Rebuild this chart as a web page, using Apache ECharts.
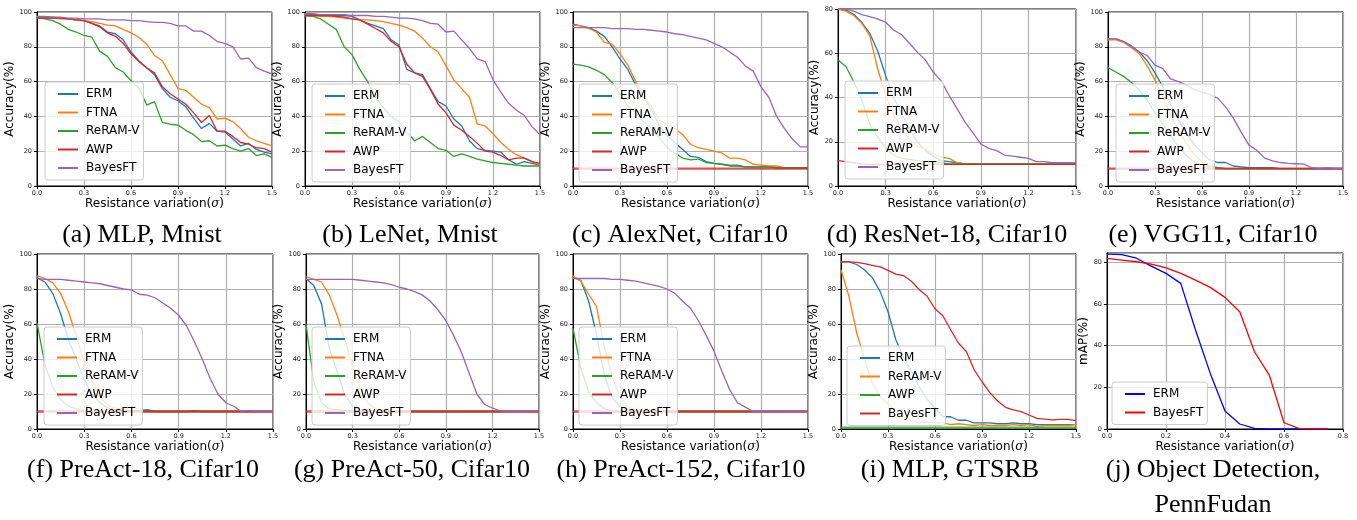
<!DOCTYPE html>
<html><head><meta charset="utf-8">
<script src="https://cdn.jsdelivr.net/npm/echarts@6/dist/echarts.min.js"></script>
<style>html,body{margin:0;padding:0;background:#fff}#c{width:1357px;height:520px}</style>
</head><body><div id="c"></div><script>
// ---- x values ----
const sigma = [0,0.05,0.1,0.15,0.2,0.25,0.3,0.35,0.4,0.45,0.5,0.55,0.6,0.65,0.7,0.75,0.8,0.85,0.9,0.95,1.0,1.05,1.1,1.15,1.2,1.25,1.3,1.35,1.4,1.45,1.5];
const sigmaJ = [0,0.05,0.1,0.15,0.2,0.25,0.3,0.35,0.4,0.45,0.5,0.55,0.6,0.65,0.7,0.75];

// (a) MLP, Mnist
const aERM   = [97,97,97,96.5,96,95.5,95,93.5,92,88.5,87.5,84,77,72,68,64,56,51,49,45.5,39,33,36,31.5,31,27,23,24.5,21,19.5,18.5];
const aFTNA  = [96.5,96.5,96.5,96,96,95.5,95,94.5,93.5,92.5,92,90,88,85.5,81.5,75,72,64,56,55,51,47,45,38.5,39,37,33,28,26,24.5,23];
const aReRAM = [97,96,95,93,90,88.5,86.5,85.5,77.5,74.5,68,65.5,60.5,56.5,46.5,48.5,36.5,35.5,35,32,29.5,25.5,26,23,23.5,21.5,20,21.5,17.5,18.5,16.5];
const aAWP   = [96.5,96.5,96.5,96.5,96,95.5,95,93.5,91.5,88,86,82,76,71.5,68,65,57,53,50,47,42,36.5,40.5,31.5,31.5,28.5,25,24,22,21.5,19.5];
const aBayes = [97.5,97.5,97,97,96.5,96.5,96,96,96,95.5,95.5,95.5,95,95,94.5,94,94,93.5,92,92,89,89,86.5,83,82,80,73,73.5,68,66,64.5];
// (b) LeNet, Mnist
const bERM   = [98.5,98.5,98.5,98,98,98,97.5,95.5,93.5,92,90.5,84,81,67,65,64,56,48.5,46,38.5,34.5,26,21.5,20.5,20,19.5,15,12.5,14,13,12];
const bFTNA  = [98,98,97.5,97.5,97,96.5,96,95.5,95.5,95,94.5,93.5,92.5,91,89,85,80,77,69,61,56,51,35.5,34.5,30,25,21,18,16,14,12];
const bReRAM = [98,97.5,96,93,90,80,75.5,67,60,51,45,40,37,31,26,28.5,25,21.5,20.5,17,18.5,17,15.5,14.5,13.5,13,12.5,12,11.5,11.5,11.5];
const bAWP   = [98,98,98,98,97.5,97,96,95.5,93,90.5,88,83,80,70,65,63,55.5,47,42,35,32,28.5,24.5,20,19.5,17.5,15,16,16,14,13];
const bBayes = [99,99,98.5,98.5,98.5,98.5,98,98,98,97.5,97.5,97,96.5,96.5,96,95,93.5,93,88.5,89,84,79,73,71.5,61,54,47.5,43.5,40.5,34,29.5];
// (c) AlexNet, Cifar10
const cERM   = [93,92,91,89,86,80,73,67,58,51,44,35,29,25,21,17,16.5,14,13,12.5,11.5,11.5,11,11,11,11,10.5,10.5,10.5,10.5,10];
const cFTNA  = [92.5,92,90.5,88.5,82.5,81.5,76,69.5,60,52,46,38,35.5,33,29.5,24,22,21,20,19,16,16,15,12.5,12,11.5,11.5,10.5,10.5,10.5,10];
const cReRAM = [70,69.5,68.5,66.5,64,59.5,53,46,42,37,33,28,22,19,16,15,15.5,13.5,13,12.5,12,12,11,11,11,11,10.5,10.5,10.5,10.5,10.5];
const cAWP   = [10,10,10,10,10,10,10,10,10,10,10,10,10,10,10,10,10,10,10,10,10,10,10,10,10,10,10,10,10,10,10];
const cBayes = [91,91,91,91,91,90.5,90.5,90.5,90,90,89.5,89,88.5,87.5,87,86,85,84,82,80,77,74,69,66,57,51,40,33,27,22.5,22.5];
// (d) ResNet-18, Cifar10
const dERM   = [80,79.5,77.5,74,69,61,50,40,33,26,20,16,13.5,11.5,11,10.5,10,10,10,10,10,10,10,10,10,10,10,10,10,10,10];
const dFTNA  = [80,79,77,73.5,68,53,41,32,26,21,18,16.5,14.5,13,12.5,10.5,10,10,10,10,10,10,10,10,10,10,10,10,10,10,10];
const dReRAM = [57,54,47,39,28,22,17,14,12.5,12,11.5,11,10.5,10.5,10,10,10,10,10,10,10,10,10,10,10,10,10,10,10,10,10];
const dAWP   = [11.5,11,10.5,10,9.8,9.8,9.8,9.8,9.8,9.8,9.8,9.8,9.8,9.8,9.8,9.8,9.8,9.8,9.8,9.8,9.8,9.8,9.8,9.8,9.8,9.8,9.8,9.8,9.8,9.8,9.8];
const dBayes = [80.5,80,79,77.5,76.5,75.5,74,70.5,68.5,64.5,60.5,57,51.5,47.5,41,35,29,24,19,17,16,14,13.5,13,12.5,11,11,10.5,10.5,10.5,10.5];
// (e) VGG11, Cifar10
const eERM   = [84.5,84.5,83,80.5,77,72,65,57,47,38,30,24,19,15,13.5,13.5,11.5,11,10.5,10.5,10.5,10.5,10,10,10,10,10,10,10,10,10];
const eFTNA  = [84,84,82.5,79.5,76,69,61,51,41,32,24.5,18,14,11.5,10.5,10,10,10,10,10,10,10,10,10,10,10,10,10,10,10,10];
const eReRAM = [68,65.5,63,59.5,55,49.5,42,35.5,29,22.5,17.5,14,12,11,10.5,10,10,10,10,10,10,10,10,10,10,10,10,10,10,10,10];
const eAWP   = [10,10,10,10,10,10,10,10,10,10,10,10,10,10,10,10,10,10,10,10,10,10,10,10,10,10,10,10,10,10,10];
const eBayes = [84.5,84.5,83,80,77,75,69.5,67.5,61.5,60,58,55.5,54,52.5,50.5,45.5,39,31,23.5,20.5,16,14.5,13.5,13,12.8,12.6,10.5,10.2,10.5,10.2,10.2];
// (f) PreAct-18, Cifar10
const fERM   = [86.5,84,77.5,66,51,40,28,20,15,12,11,10.5,10.5,10.5,11,10,10,10,10,10,10.5,10,10,10,10,10,10,10,10,10,10];
const fFTNA  = [87.5,86,83.5,77.5,67,53,38,28,18.5,13.5,12,11,10.5,10,10,10,10,10,10,10,10,10,10,10,10,10,10,10,10,10,10];
const fReRAM = [60.5,37,24,17,13,11.5,10.5,10,10,10,10,10,10,10,10,10,10,10,10,10,10,10,10,10,10,10,10,10,10,10,10];
const fAWP   = [10,10,10,10,10,10,10,10,10,10,10,10,10,10,10,10,10,10,10,10,10,10,10,10,10,10,10,10,10,10,10];
const fBayes = [86,85.5,85.5,85.5,85,84.5,84,83.5,83,82,81,80,79.5,77,76.5,75,72,69,65,59,50,40,29,20,15,13,10,10.5,10,10,10];
// (g) PreAct-50, Cifar10
const gERM   = [86,82,71.5,46,33,19.5,13,10.5,10,10,10,10,10,10,10,10,10,10,10,10,10,10,10,10,10,10,10,10,10,10,10];
const gFTNA  = [87,85.5,84,76.5,65,51,35.5,23,14.5,11.5,10.5,10,10,10,10,10,10,10,10,10,10,10,10,10,10,10,10,10,10,10,10];
const gReRAM = [60,27,15,11.5,11,10.5,10,10,10,10,10,10,10,10,10,10,10,10,10,10,10,10,10,10,10,10,10,10,10,10,10];
const gAWP   = [10,10,10,10,10,10,10,10,10,10,10,10,10,10,10,10,10,10,10,10,10,10,10,10,10,10,10,10,10,10,10];
const gBayes = [85.5,85.5,85.5,85.5,85.5,85.5,85.5,85,84.5,84,83.5,82.5,81,80,78.5,76.5,73,68,62,53.5,44,32,20,14,12,10.3,10,10,10,10,10];
// (h) PreAct-152, Cifar10
const hERM   = [86.5,85,73,54,31,18,13,11.3,10.5,10,10,10,10,10,10,10,10,10,10,10,10,10,10,10,10,10,10,10,10,10,10];
const hFTNA  = [87.5,84.5,77,70,47,30,18.5,13,10.5,10,10,10,10,10,10,10,10,10,10,10,10,10,10,10,10,10,10,10,10,10,10];
const hReRAM = [57.5,35,21,15,11.5,10.5,10,10,10,10,10,10,10,10,10,10,10,10,10,10,10,10,10,10,10,10,10,10,10,10,10];
const hAWP   = [10,10,10,10,10,10,10,10,10,10,10,10,10,10,10,10,10,10,10,10,10,10,10,10,10,10,10,10,10,10,10];
const hBayes = [86,86,86,86,86,85.5,85.5,85,84.5,83.5,82.5,81.5,80,77.5,73,69,62,53.5,44.5,33,22.5,15,12.5,10,10,10,10,10,10,10,10];
// (i) MLP, GTSRB
const iERM   = [95.5,95.5,94,91,86.5,78.5,67,51,41,33,24,17,12,7,7,5,5,3.5,3.5,3.5,3,3,3.5,3,3,2.5,2.5,2.5,2.5,2.5,2.5];
const iReRAM = [91,76,55,40,26,18.5,14.5,10,7,5,3.5,4,3.5,3.5,2.5,3,2.5,2,2.5,2,2,2,2.5,2,2.5,1.5,2,2,2,2,2.5];
const iAWP   = [0.7,0.7,0.7,0.7,0.7,0.7,0.7,0.7,0.7,0.7,0.7,0.7,0.7,0.7,0.7,0.7,0.7,0.7,0.7,0.7,0.7,0.7,0.7,0.7,0.7,0.7,0.7,0.7,0.7,0.7,0.7];
const iBayes = [95.5,95.5,95.2,94.5,93.5,92.6,90.6,88.5,87.6,84.4,79.6,75.8,68.7,64.7,56.7,49,44.3,33.8,27,20.8,16,12.4,10.9,9.9,8,6.1,5.7,5.2,5.5,5.5,4.8];
// (j) Object Detection, PennFudan
const jERM   = [84,83.7,82,78.2,74.7,69.9,47.5,26.7,8.6,2.4,0.3,0,0,0,0,0];
const jBayes = [81.9,81.1,80.3,79.2,77.4,74.7,71.5,68,63.2,56.3,37.1,25.9,3,0.3,0,0];

const C = {blue:'#1f77b4', orange:'#ff7f0e', green:'#2ca02c', red:'#d62728', purple:'#9467bd', B:'#0000ff', R:'#ff0000'};
const std = (p)=>[['ERM',p[0],C.blue],['FTNA',p[1],C.orange],['ReRAM-V',p[2],C.green],['AWP',p[3],C.red,p[5]],['BayesFT',p[4],C.purple]];

const panels = [
 {k:'a', g:[37,12,235,174], ymax:100, yname:'Accuracy(%)', ygap:21, leg:[45,82], cap:[142,235,'(a) MLP, Mnist'], s:std([aERM,aFTNA,aReRAM,aAWP,aBayes])},
 {k:'b', g:[305,12,235,174], ymax:100, yname:'Accuracy(%)', ygap:17, leg:[312,84], cap:[410,235,'(b) LeNet, Mnist'], s:std([bERM,bFTNA,bReRAM,bAWP,bBayes])},
 {k:'c', g:[573,12,235,174], ymax:100, yname:'Accuracy(%)', ygap:17, leg:[579,84], cap:[680,235,'(c) AlexNet, Cifar10'], s:std([cERM,cFTNA,cReRAM,cAWP,cBayes,true])},
 {k:'d', g:[838,9,238,177], ymax:80, yname:'Accuracy(%)', ygap:14, leg:[845,81], cap:[947,235,'(d) ResNet-18, Cifar10'], s:std([dERM,dFTNA,dReRAM,dAWP,dBayes])},
 {k:'e', g:[1108,12,235,174], ymax:100, yname:'Accuracy(%)', ygap:15, leg:[1116,84], cap:[1213,235,'(e) VGG11, Cifar10'], s:std([eERM,eFTNA,eReRAM,eAWP,eBayes,true])},
 {k:'f', g:[37,254,236,175], ymax:100, yname:'Accuracy(%)', ygap:18, leg:[44,327], cap:[143,470,'(f) PreAct-18, Cifar10'], s:std([fERM,fFTNA,fReRAM,fAWP,fBayes,true])},
 {k:'g', g:[306,254,233,175], ymax:100, yname:'Accuracy(%)', ygap:18, leg:[312,327], cap:[412,470,'(g) PreAct-50, Cifar10'], s:std([gERM,gFTNA,gReRAM,gAWP,gBayes,true])},
 {k:'h', g:[573,254,235,175], ymax:100, yname:'Accuracy(%)', ygap:17, leg:[579,327], cap:[681,470,'(h) PreAct-152, Cifar10'], s:std([hERM,hFTNA,hReRAM,hAWP,hBayes,true])},
 {k:'i', g:[841,254,235,175], ymax:100, yname:'Accuracy(%)', ygap:17, leg:[847,346], cap:[950,470,'(i) MLP, GTSRB'], s:[['ERM',iERM,C.blue],['ReRAM-V',iReRAM,C.orange],['AWP',iAWP,C.green,true],['BayesFT',iBayes,C.red]]},
 {k:'j', g:[1107,253,236,176], ymax:84.5, xmax:0.8, xint:0.2, xs:sigmaJ, yname:'mAP(%)', ygap:13, leg:[1112,382], cap:[1213,470,'(j) Object Detection,'], cap2:[1213,505,'PennFudan'], s:[['ERM',jERM,C.B],['BayesFT',jBayes,C.R]]}
];

const FONT = '"DejaVu Sans", sans-serif';
const CAPFONT = '26px "Liberation Serif", serif';
const grids=[], xAxes=[], yAxes=[], series=[], legends=[], graphics=[];
panels.forEach((p,idx)=>{
  grids.push({left:p.g[0], top:p.g[1], width:p.g[2], height:p.g[3], show:true, borderColor:'#000', borderWidth:1, backgroundColor:'transparent', containLabel:false});
  xAxes.push({type:'value', gridIndex:idx, min:0, max:p.xmax||1.5, interval:p.xint||0.3,
    name:'Resistance variation({s|σ})', nameLocation:'middle', nameGap:12,
    nameTextStyle:{fontSize:12, fontFamily:FONT, color:'#000', rich:{s:{fontSize:12, fontFamily:'"DejaVu Serif", serif', fontStyle:'italic', color:'#000'}}},
    axisLine:{show:true, onZero:false, lineStyle:{color:'#000', width:1}},
    axisTick:{show:true, inside:false, length:3, lineStyle:{color:'#000'}},
    axisLabel:{fontSize:6.5, fontFamily:FONT, color:'#222', margin:4, formatter:v=>v.toFixed(1)},
    splitLine:{show:true, lineStyle:{color:'#b0b0b0', width:1.2}}});
  yAxes.push({type:'value', gridIndex:idx, min:0, max:p.ymax, interval:20,
    name:p.yname, nameLocation:'middle', nameGap:p.ygap, nameRotate:90,
    nameTextStyle:{fontSize:12, fontFamily:FONT, color:'#000'},
    axisLine:{show:true, onZero:false, lineStyle:{color:'#000', width:1}},
    axisTick:{show:true, inside:false, length:3, lineStyle:{color:'#000'}},
    axisLabel:{fontSize:6.5, fontFamily:FONT, color:'#222', margin:5, showMaxLabel: p.ymax%20===0},
    splitLine:{show:true, lineStyle:{color:'#b0b0b0', width:1.2}}});
  const xs = p.xs || sigma;
  const names=[];
  p.s.forEach(([nm,vals,col,thick])=>{
    const sn = nm+'#'+p.k;
    names.push(sn);
    series.push({type:'line', name:sn, xAxisIndex:idx, yAxisIndex:idx, showSymbol:false, symbol:'none',
      color:col, lineStyle:{color:col, width: thick?2.4:1.3, opacity: thick?0.8:1}, silent:true,
      data: xs.map((x,i)=>[x, vals[i]])});
  });
  legends.push({orient:'vertical', left:p.leg[0], top:p.leg[1], data:names, selectedMode:false,
    formatter:n=>n.split('#')[0], icon:'rect', itemWidth:20, itemHeight:2, itemGap:6.5,
    padding:[6,4,6,13], backgroundColor:'rgba(255,255,255,0.8)', borderColor:'#cccccc', borderWidth:1, borderRadius:3,
    textStyle:{fontSize:12, fontFamily:FONT, color:'#000', padding:[0,0,0,3]}});
  graphics.push({type:'text', x:p.cap[0], y:p.cap[1], style:{text:p.cap[2], font:CAPFONT, fill:'#000', align:'center', verticalAlign:'middle'}});
  if(p.cap2) graphics.push({type:'text', x:p.cap2[0], y:p.cap2[1], style:{text:p.cap2[2], font:CAPFONT, fill:'#000', align:'center', verticalAlign:'middle'}});
});

const chart = echarts.init(document.getElementById('c'), null, {renderer:'canvas'});
chart.setOption({animation:false, backgroundColor:'#fff', grid:grids, xAxis:xAxes, yAxis:yAxes, series, legend:legends, graphic:graphics});
</script></body></html>
